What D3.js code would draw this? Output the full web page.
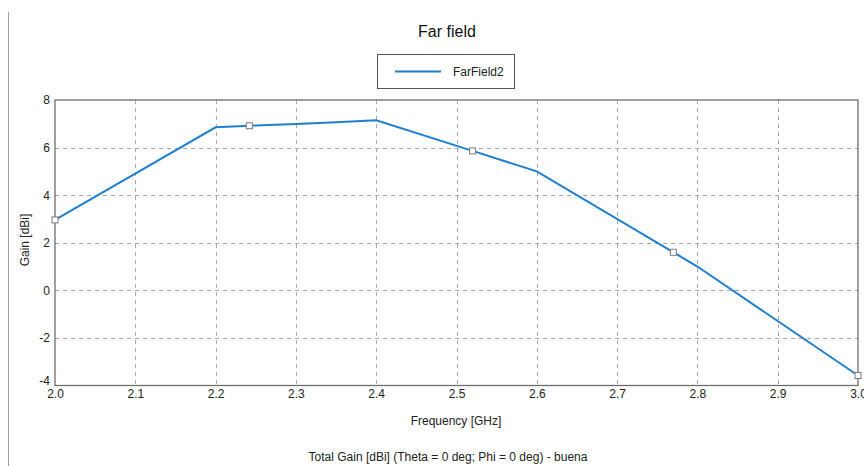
<!DOCTYPE html>
<html><head><meta charset="utf-8">
<script src="https://cdn.jsdelivr.net/npm/d3@7"></script>
<style>body{margin:0;background:#fff;font-family:"Liberation Sans",Arial,sans-serif;}</style>
</head><body>
<svg id="c" width="864" height="466"></svg>
<script>
const freq = [2.0, 2.2, 2.25, 2.3, 2.35, 2.4, 2.52, 2.6, 2.8, 3.0];
const gain = [2.96, 6.85, 6.93, 6.99, 7.06, 7.15, 5.86, 5.0, 1.0, -3.58];
const markerFreq = [2.0, 2.242, 2.52, 2.77, 3.0];
const markerGain = [2.96, 6.92, 5.86, 1.6, -3.58];
const xTicks = [2.0, 2.1, 2.2, 2.3, 2.4, 2.5, 2.6, 2.7, 2.8, 2.9, 3.0];
const yTicks = [-4, -2, 0, 2, 4, 6, 8];
const seriesName = "FarField2";

const svg = d3.select("#c");
const L = 55, R = 858, T = 100, B = 385.5;
const x = d3.scaleLinear().domain([2, 3]).range([L, R]);
const y = d3.scaleLinear().domain([-4, 8]).range([B, T]);

// left frame line
svg.append("line").attr("x1", 8.5).attr("x2", 8.5).attr("y1", 12).attr("y2", 466)
  .attr("stroke", "#a0a0a0").attr("stroke-width", 1);

// grid
svg.append("g").selectAll("line").data(xTicks.slice(1, -1)).join("line")
  .attr("x1", d => Math.round(x(d)) + 0.5).attr("x2", d => Math.round(x(d)) + 0.5)
  .attr("y1", T).attr("y2", B)
  .attr("stroke", "#a8a8a8").attr("stroke-dasharray", "4,4");
svg.append("g").selectAll("line").data(yTicks.slice(1, -1)).join("line")
  .attr("y1", d => Math.round(y(d)) + 0.5).attr("y2", d => Math.round(y(d)) + 0.5)
  .attr("x1", L).attr("x2", R)
  .attr("stroke", "#a8a8a8").attr("stroke-dasharray", "4,4");

// frame
svg.append("rect").attr("x", L).attr("y", T).attr("width", R - L).attr("height", B - T)
  .attr("fill", "none").attr("stroke", "#6e6e6e").attr("stroke-width", 1.3);

// axes labels
const xAxis = d3.axisBottom(x).tickValues(xTicks).tickFormat(d3.format(".1f")).tickSize(0).tickPadding(4);
const gx = svg.append("g").attr("transform", `translate(0,${B})`).call(xAxis);
gx.select(".domain").remove();
gx.selectAll("text").attr("font-family", "Liberation Sans, Arial, sans-serif").attr("font-size", 12).attr("fill", "#222");

const yAxis = d3.axisLeft(y).tickValues(yTicks).tickFormat(d => String(d)).tickSize(0).tickPadding(5);
const gy = svg.append("g").attr("transform", `translate(${L},0)`).call(yAxis);
gy.select(".domain").remove();
gy.selectAll("text").attr("font-family", "Liberation Sans, Arial, sans-serif").attr("font-size", 12).attr("fill", "#222")
  .attr("dy", d => d === -4 ? "-0.05em" : "0.32em");

// line
const line = d3.line().x((d, i) => x(freq[i])).y((d, i) => y(gain[i]));
svg.append("path").datum(gain).attr("d", line)
  .attr("fill", "none").attr("stroke", "#1f7fd0").attr("stroke-width", 2);

// markers
svg.append("g").selectAll("rect").data(markerFreq).join("rect")
  .attr("x", (d) => x(d) - 3).attr("y", (d, i) => y(markerGain[i]) - 3)
  .attr("width", 6).attr("height", 6)
  .attr("fill", "#fff").attr("stroke", "#7a7a7a").attr("stroke-width", 1);

// title
svg.append("text").attr("x", 447).attr("y", 37).attr("text-anchor", "middle")
  .attr("font-size", 16).attr("fill", "#111").text("Far field");

// legend
svg.append("rect").attr("x", 377.5).attr("y", 54.5).attr("width", 137).attr("height", 34)
  .attr("fill", "#fff").attr("stroke", "#555").attr("stroke-width", 1);
svg.append("line").attr("x1", 395).attr("x2", 441).attr("y1", 71.5).attr("y2", 71.5)
  .attr("stroke", "#1f7fd0").attr("stroke-width", 2);
svg.append("text").attr("x", 453).attr("y", 76).attr("font-size", 12).attr("fill", "#222").text(seriesName);

// axis titles
svg.append("text").attr("x", 456).attr("y", 425).attr("text-anchor", "middle")
  .attr("font-size", 12).attr("fill", "#222").text("Frequency [GHz]");
svg.append("text").attr("transform", "translate(29,240) rotate(-90)").attr("text-anchor", "middle")
  .attr("font-size", 12).attr("fill", "#222").text("Gain [dBi]");
svg.append("text").attr("x", 448).attr("y", 461).attr("text-anchor", "middle")
  .attr("font-size", 12).attr("fill", "#222").text("Total Gain [dBi] (Theta = 0 deg; Phi = 0 deg) - buena");
</script>
</body></html>
